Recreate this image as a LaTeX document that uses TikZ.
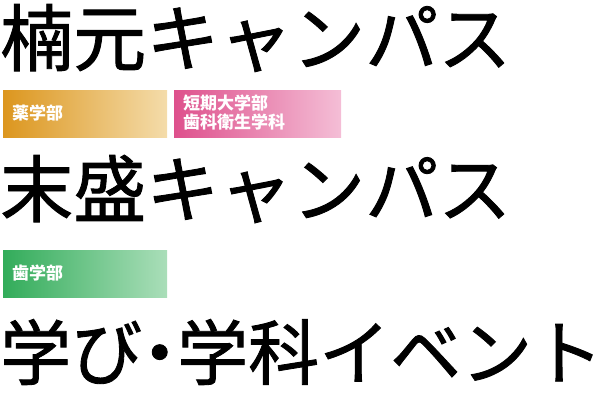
\documentclass[tikz,border=0pt]{standalone}
\usepackage{fontspec}
\setmainfont{Noto Sans CJK JP}
\newfontfamily\titlefont{Noto Sans CJK JP}[FakeBold=1.2]
\usetikzlibrary{positioning}

\begin{document}
\begin{tikzpicture}[
	x=1pt, y=-1pt,
	title/.style = {anchor=west, inner sep=0pt, font=\titlefont\fontsize{73}{73}\selectfont, text=black},
	taglabel/.style = {anchor=west, inner sep=0pt, text=white, font=\fontsize{17}{19}\selectfont\bfseries, align=left}
	]
	\useasboundingbox (0,0) rectangle (616,400);
	
	% Campus titles
	\node [title] (kusumoto) at (0,38) {楠元キャンパス};
	\node [title] (suemori) at (0,189) {末盛キャンパス};
	\node [title, font=\titlefont\fontsize{71}{71}\selectfont] (events) at (0,352) {学び\kern-18pt・\kern-18pt学科イベント};
	
	% Department tags
	\shade [left color={rgb,255:red,220;green,150;blue,30}, right color={rgb,255:red,244;green,220;blue,170}] (3,90) rectangle (167,137);
	\node [taglabel] (yaku) at (12,113) {薬学部};
	\shade [left color={rgb,255:red,222;green,80;blue,140}, right color={rgb,255:red,244;green,190;blue,214}] (174,90) rectangle (341,137);
	\node [taglabel] (tanki) at (183,113) {短期大学部\\歯科衛生学科};
	\shade [left color={rgb,255:red,50;green,172;blue,90}, right color={rgb,255:red,170;green,222;blue,185}] (3,250) rectangle (167,297);
	\node [taglabel] (shigaku) at (12,273) {歯学部};
\end{tikzpicture}
\end{document}
